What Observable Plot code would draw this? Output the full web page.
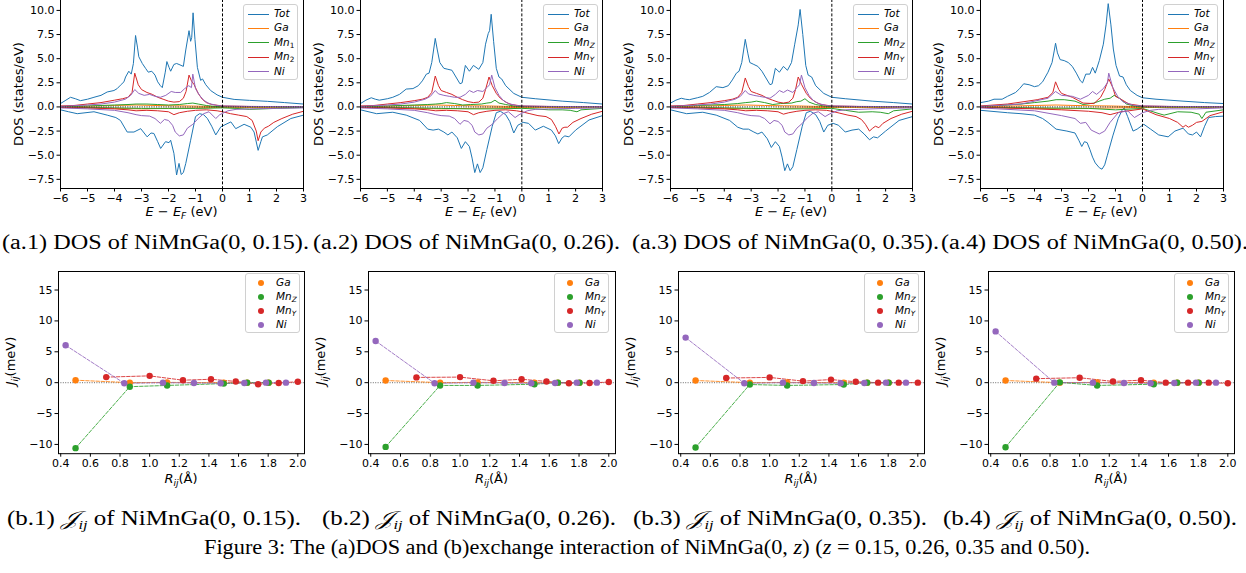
<!DOCTYPE html>
<html><head><meta charset="utf-8">
<script src="https://cdn.jsdelivr.net/npm/d3@7"></script>
<script src="https://cdn.jsdelivr.net/npm/@observablehq/plot@0.6"></script>
<style>
html,body{margin:0;padding:0;background:#fff;}
body{width:1246px;height:573px;overflow:hidden;position:relative;font-family:"DejaVu Sans",sans-serif;color:#000;}
.lbl{position:absolute;font-size:13px;white-space:nowrap;line-height:1;}
.sb{font-size:70%;vertical-align:-0.3em;}
.leg{position:absolute;border:1px solid #d0d0d0;border-radius:3px;background:rgba(255,255,255,0.85);box-sizing:border-box;}
.legt{position:absolute;font-size:10.5px;font-style:italic;white-space:nowrap;line-height:1;}
</style></head>
<body>
<script>
// ---------- tick labels ----------
const dosTicksX = [-6,-5,-4,-3,-2,-1,0,1,2,3];
const dosTicksY = [-7.5,-5,-2.5,0,2.5,5,7.5,10];
const jTicksX = [0.4,0.6,0.8,1.0,1.2,1.4,1.6,1.8,2.0];
const jTicksY = [-10,-5,0,5,10,15];
const speciesDOS = ["Tot","Ga","MnZ","MnY","Ni"];
const speciesJ = ["Ga","MnZ","MnY","Ni"];
const colorsDOS = ["#1f77b4","#ff7f0e","#2ca02c","#d62728","#9467bd"];
const colorsJ = ["#ff7f0e","#2ca02c","#d62728","#9467bd"];

// ---------- DOS panel 1 (z = 0.15) : [E, DOS] ----------
const tot_up_1 = [[-6,0.35],[-5.8,0.7],[-5.63,1.0],[-5.45,0.85],[-5.26,0.65],[-5.0,0.8],[-4.76,1.0],[-4.5,1.2],[-4.27,1.55],[-4.02,1.7],[-3.9,1.9],[-3.78,2.25],[-3.65,2.6],[-3.59,3.1],[-3.47,3.7],[-3.38,3.4],[-3.3,4.5],[-3.22,7.4],[-3.15,6.2],[-3.1,5.2],[-2.97,4.5],[-2.85,4.0],[-2.75,3.6],[-2.62,3.7],[-2.5,3.3],[-2.4,2.6],[-2.3,2.2],[-2.23,2.0],[-2.12,3.6],[-2.06,4.7],[-1.98,4.1],[-1.92,3.7],[-1.8,4.4],[-1.7,4.5],[-1.61,4.4],[-1.45,4.2],[-1.36,5.9],[-1.24,7.9],[-1.18,6.8],[-1.14,7.2],[-1.09,9.75],[-1.02,7.0],[-0.93,4.1],[-0.81,2.75],[-0.74,2.9],[-0.62,2.3],[-0.44,1.7],[-0.2,1.25],[0,1.0],[0.43,0.78],[1.0,0.68],[1.66,0.58],[2.3,0.45],[3,0.3]];
const tot_dn_1 = [[-6,-0.3],[-5.7,-0.5],[-5.38,-0.7],[-4.76,-0.5],[-4.27,-0.85],[-3.95,-1.1],[-3.78,-1.4],[-3.53,-2.6],[-3.28,-2.6],[-3.03,-2.25],[-2.79,-3.1],[-2.65,-2.7],[-2.54,-2.75],[-2.4,-3.6],[-2.29,-4.3],[-2.11,-3.6],[-1.98,-3.7],[-1.92,-3.45],[-1.8,-4.8],[-1.7,-7.05],[-1.61,-5.85],[-1.53,-7.0],[-1.45,-6.8],[-1.36,-5.85],[-1.18,-3.45],[-1.0,-1.0],[-0.85,-0.7],[-0.7,-0.8],[-0.56,-1.2],[-0.4,-2.0],[-0.25,-2.9],[-0.06,-2.05],[0.31,-1.55],[0.49,-2.25],[0.8,-1.8],[1.05,-2.1],[1.17,-2.6],[1.32,-4.5],[1.42,-3.6],[1.48,-3.1],[1.66,-2.9],[2.03,-2.05],[2.53,-1.2],[3,-0.85]];
const ga_up_1 = [[-6,0.02],[-5,0.08],[-4,0.15],[-3.2,0.2],[-2.5,0.15],[-1.8,0.12],[-1.2,0.1],[-0.5,0.05],[0,0.03],[3,0.02]];
const ga_dn_1 = [[-6,-0.02],[-5,-0.08],[-4,-0.15],[-3,-0.2],[-2,-0.15],[-1,-0.1],[0,-0.05],[1.5,-0.05],[3,-0.02]];
const mnz_up_1 = [[-6,0.03],[-5,0.1],[-4,0.2],[-3.5,0.25],[-3.2,0.3],[-2.8,0.3],[-2.4,0.25],[-2.0,0.2],[-1.6,0.25],[-1.3,0.35],[-1.1,0.4],[-0.9,0.3],[-0.6,0.15],[-0.3,0.05],[0,0.02],[3,0.01]];
const mnz_dn_1 = [[-6,-0.03],[-4,-0.1],[-3,-0.15],[-2,-0.15],[-1,-0.15],[0,-0.1],[0.5,-0.15],[1.0,-0.25],[1.5,-0.2],[2.0,-0.15],[3,-0.05]];
const mny_up_1 = [[-6,0.1],[-5.5,0.15],[-5,0.3],[-4.5,0.45],[-4,0.7],[-3.7,0.85],[-3.5,1.0],[-3.35,1.5],[-3.25,3.5],[-3.12,2.3],[-3.0,1.8],[-2.8,1.5],[-2.6,1.3],[-2.4,1.0],[-2.2,0.8],[-2.0,0.6],[-1.8,0.5],[-1.6,0.55],[-1.45,0.9],[-1.35,1.6],[-1.24,3.3],[-1.15,2.7],[-1.05,2.3],[-0.9,1.4],[-0.75,0.8],[-0.6,0.45],[-0.4,0.25],[0,0.1],[1,0.05],[3,0.03]];
const mny_dn_1 = [[-6,-0.05],[-5,-0.1],[-4,-0.2],[-3.5,-0.3],[-3.2,-0.4],[-2.8,-0.35],[-2.4,-0.4],[-2.0,-0.5],[-1.8,-0.8],[-1.6,-0.6],[-1.3,-0.45],[-1.0,-0.35],[-0.6,-0.3],[-0.2,-0.4],[0,-0.5],[0.3,-0.7],[0.6,-0.85],[0.9,-1.0],[1.1,-1.4],[1.25,-2.5],[1.32,-3.5],[1.42,-2.6],[1.55,-2.2],[1.7,-2.0],[1.9,-1.6],[2.2,-1.2],[2.6,-0.75],[3,-0.45]];
const ni_up_1 = [[-6,0.05],[-5,0.2],[-4.5,0.3],[-4,0.5],[-3.6,0.8],[-3.4,1.2],[-3.25,1.8],[-3.1,1.4],[-2.9,1.2],[-2.7,1.3],[-2.5,1.1],[-2.3,1.0],[-2.1,1.2],[-1.9,1.6],[-1.75,1.5],[-1.55,1.5],[-1.4,1.9],[-1.25,2.2],[-1.15,2.0],[-1.1,3.4],[-1.0,1.9],[-0.85,1.2],[-0.7,0.7],[-0.5,0.35],[-0.2,0.15],[0,0.1],[1,0.05],[3,0.03]];
const ni_dn_1 = [[-6,-0.1],[-5,-0.2],[-4,-0.35],[-3.5,-0.6],[-3.2,-0.8],[-3.0,-0.9],[-2.7,-0.95],[-2.5,-1.2],[-2.3,-1.7],[-2.15,-1.3],[-2.0,-1.4],[-1.85,-1.9],[-1.75,-2.6],[-1.6,-3.0],[-1.45,-2.9],[-1.3,-2.2],[-1.1,-1.8],[-0.9,-1.2],[-0.7,-0.7],[-0.5,-0.5],[-0.25,-1.2],[-0.1,-0.8],[0.2,-0.4],[0.5,-0.25],[1.0,-0.2],[2,-0.15],[3,-0.1]];

// ---------- DOS panel 2 (z = 0.26) ----------
const tot_up_2 = [[-6,0.35],[-5.8,0.7],[-5.6,0.95],[-5.45,0.8],[-5.3,0.7],[-5.0,0.85],[-4.8,1.0],[-4.55,1.3],[-4.3,1.85],[-4.05,1.9],[-3.85,2.2],[-3.7,2.7],[-3.55,3.4],[-3.45,3.5],[-3.35,4.6],[-3.22,7.1],[-3.15,6.0],[-3.05,4.6],[-2.9,4.0],[-2.75,3.9],[-2.6,3.8],[-2.45,3.1],[-2.3,2.4],[-2.22,2.5],[-2.1,4.3],[-1.95,3.7],[-1.8,4.3],[-1.6,3.9],[-1.45,4.6],[-1.35,6.5],[-1.25,7.6],[-1.2,7.9],[-1.14,9.6],[-1.05,6.8],[-0.95,4.0],[-0.85,3.1],[-0.75,2.9],[-0.6,2.2],[-0.3,1.4],[0,1.0],[0.5,0.85],[1.5,0.6],[2.3,0.45],[3,0.3]];
const tot_dn_2 = [[-6,-0.3],[-5.4,-0.7],[-4.8,-0.55],[-4.3,-0.85],[-3.8,-1.4],[-3.5,-2.3],[-3.3,-2.4],[-3.1,-2.3],[-2.9,-2.6],[-2.75,-2.9],[-2.6,-2.6],[-2.4,-3.2],[-2.25,-4.3],[-2.1,-3.6],[-1.95,-4.1],[-1.85,-5.3],[-1.75,-6.8],[-1.65,-5.9],[-1.55,-6.8],[-1.45,-6.3],[-1.3,-4.4],[-1.1,-2.0],[-0.95,-0.6],[-0.8,-0.45],[-0.6,-0.8],[-0.45,-1.5],[-0.3,-2.7],[-0.15,-1.9],[0.05,-1.6],[0.25,-1.7],[0.5,-2.4],[0.8,-2.0],[1.1,-2.4],[1.25,-3.0],[1.37,-3.8],[1.5,-3.2],[1.6,-3.0],[1.75,-3.1],[2.0,-2.4],[2.5,-1.35],[3,-0.9]];
const ga_up_2 = [[-6,0.02],[-5,0.08],[-4,0.15],[-3.2,0.2],[-2.5,0.15],[-1.8,0.12],[-1.2,0.1],[-0.5,0.05],[0,0.03],[3,0.02]];
const ga_dn_2 = [[-6,-0.02],[-5,-0.08],[-4,-0.15],[-3,-0.2],[-2,-0.15],[-1,-0.1],[0,-0.05],[1.5,-0.05],[3,-0.02]];
const mnz_up_2 = [[-6,0.03],[-5,0.1],[-4,0.2],[-3.5,0.25],[-3.2,0.3],[-3.0,0.35],[-2.8,0.45],[-2.5,0.35],[-2.2,0.2],[-1.9,0.25],[-1.5,0.3],[-1.3,0.4],[-1.15,0.45],[-1.0,0.7],[-0.85,0.4],[-0.6,0.25],[-0.3,0.1],[0,0.03],[3,0.01]];
const mnz_dn_2 = [[-6,-0.03],[-4,-0.1],[-3,-0.15],[-2,-0.2],[-1,-0.2],[0,-0.15],[0.5,-0.2],[1.0,-0.3],[1.5,-0.3],[1.8,-0.35],[2.05,-0.5],[2.2,-0.3],[3,-0.15]];
const mny_up_2 = [[-6,0.1],[-5.5,0.15],[-5,0.3],[-4.5,0.45],[-4,0.65],[-3.7,0.8],[-3.5,1.0],[-3.35,1.5],[-3.22,3.2],[-3.1,2.2],[-3.0,1.7],[-2.8,1.5],[-2.6,1.3],[-2.4,1.0],[-2.2,0.75],[-2.0,0.55],[-1.8,0.45],[-1.6,0.5],[-1.45,0.9],[-1.35,1.8],[-1.22,3.1],[-1.1,2.2],[-0.95,1.4],[-0.8,0.9],[-0.6,0.5],[-0.4,0.25],[0,0.1],[1,0.05],[3,0.03]];
const mny_dn_2 = [[-6,-0.05],[-5,-0.1],[-4,-0.2],[-3.5,-0.3],[-3.2,-0.4],[-2.8,-0.35],[-2.4,-0.4],[-2.0,-0.5],[-1.8,-0.8],[-1.6,-0.6],[-1.3,-0.45],[-1.0,-0.35],[-0.6,-0.3],[-0.2,-0.4],[0,-0.5],[0.3,-0.7],[0.6,-0.9],[0.9,-1.0],[1.1,-1.3],[1.25,-2.0],[1.38,-2.8],[1.5,-2.2],[1.6,-2.1],[1.7,-2.1],[1.9,-1.6],[2.2,-1.2],[2.6,-0.75],[3,-0.45]];
const ni_up_2 = [[-6,0.05],[-5,0.2],[-4.5,0.3],[-4,0.5],[-3.6,0.8],[-3.4,1.1],[-3.22,1.7],[-3.1,1.35],[-2.9,1.2],[-2.7,1.1],[-2.5,1.0],[-2.3,1.0],[-2.1,1.3],[-1.95,1.7],[-1.8,1.5],[-1.65,1.7],[-1.45,1.6],[-1.3,2.0],[-1.2,2.3],[-1.12,3.3],[-1.0,2.0],[-0.85,1.2],[-0.7,0.7],[-0.5,0.35],[-0.2,0.15],[0,0.1],[1,0.05],[3,0.03]];
const ni_dn_2 = [[-6,-0.1],[-5,-0.2],[-4,-0.35],[-3.5,-0.6],[-3.2,-0.8],[-3.0,-0.9],[-2.7,-0.95],[-2.5,-1.2],[-2.3,-1.8],[-2.15,-1.4],[-2.0,-1.5],[-1.85,-1.9],[-1.75,-2.6],[-1.6,-2.9],[-1.45,-2.8],[-1.3,-2.2],[-1.1,-1.8],[-0.9,-1.2],[-0.7,-0.7],[-0.5,-0.5],[-0.25,-1.1],[-0.1,-0.8],[0.2,-0.4],[0.5,-0.25],[1.0,-0.2],[2,-0.15],[3,-0.1]];

// ---------- DOS panel 3 (z = 0.35) ----------
const tot_up_3 = [[-6,0.4],[-5.8,0.7],[-5.6,0.9],[-5.45,0.8],[-5.3,0.75],[-5.0,0.95],[-4.8,1.1],[-4.55,1.5],[-4.3,2.1],[-4.05,2.0],[-3.85,2.2],[-3.7,2.8],[-3.55,3.5],[-3.45,3.7],[-3.35,4.6],[-3.22,7.0],[-3.12,5.5],[-3.05,4.6],[-2.9,4.4],[-2.75,4.2],[-2.6,3.7],[-2.45,3.0],[-2.3,2.3],[-2.22,2.4],[-2.1,4.0],[-1.95,3.6],[-1.8,4.2],[-1.65,3.8],[-1.5,4.6],[-1.38,6.5],[-1.25,8.5],[-1.18,10.1],[-1.08,7.5],[-0.97,4.3],[-0.88,3.3],[-0.75,3.1],[-0.6,2.2],[-0.3,1.4],[0,1.0],[0.5,0.85],[1.5,0.6],[2.3,0.45],[3,0.3]];
const tot_dn_3 = [[-6,-0.3],[-5.4,-0.7],[-4.8,-0.55],[-4.3,-0.85],[-3.8,-1.4],[-3.5,-2.1],[-3.3,-2.3],[-3.1,-2.3],[-2.9,-2.6],[-2.75,-2.8],[-2.6,-2.6],[-2.4,-3.3],[-2.25,-4.2],[-2.1,-3.6],[-1.95,-4.1],[-1.85,-5.2],[-1.75,-6.6],[-1.65,-5.9],[-1.55,-6.6],[-1.45,-6.2],[-1.3,-4.4],[-1.1,-2.0],[-0.95,-0.6],[-0.8,-0.45],[-0.6,-0.8],[-0.45,-1.5],[-0.3,-2.6],[-0.15,-1.9],[0.05,-1.7],[0.25,-1.9],[0.5,-2.6],[0.75,-2.4],[1.0,-2.3],[1.2,-2.8],[1.4,-3.4],[1.55,-3.1],[1.7,-3.2],[2.0,-2.5],[2.5,-1.4],[3,-1.0]];
const ga_up_3 = [[-6,0.02],[-5,0.08],[-4,0.15],[-3.2,0.2],[-2.5,0.15],[-1.8,0.12],[-1.2,0.1],[-0.5,0.05],[0,0.03],[3,0.02]];
const ga_dn_3 = [[-6,-0.02],[-5,-0.08],[-4,-0.15],[-3,-0.2],[-2,-0.15],[-1,-0.1],[0,-0.05],[1.5,-0.05],[3,-0.02]];
const mnz_up_3 = [[-6,0.03],[-5,0.15],[-4,0.25],[-3.5,0.35],[-3.2,0.45],[-3.0,0.5],[-2.8,0.6],[-2.5,0.45],[-2.2,0.25],[-1.9,0.35],[-1.5,0.4],[-1.3,0.55],[-1.15,0.6],[-1.0,0.85],[-0.85,0.5],[-0.6,0.25],[-0.3,0.1],[0,0.03],[3,0.01]];
const mnz_dn_3 = [[-6,-0.03],[-4,-0.1],[-3,-0.15],[-2,-0.2],[-1,-0.2],[0,-0.15],[0.5,-0.35],[1.0,-0.55],[1.5,-0.5],[1.8,-0.55],[2.1,-0.7],[2.3,-0.4],[3,-0.2]];
const mny_up_3 = [[-6,0.1],[-5.5,0.15],[-5,0.3],[-4.5,0.45],[-4,0.65],[-3.7,0.8],[-3.5,1.0],[-3.35,1.5],[-3.22,3.0],[-3.1,2.1],[-3.0,1.6],[-2.8,1.4],[-2.6,1.2],[-2.4,0.9],[-2.2,0.7],[-2.0,0.5],[-1.8,0.4],[-1.6,0.5],[-1.45,0.9],[-1.35,1.8],[-1.25,3.1],[-1.12,2.3],[-0.95,1.4],[-0.8,0.9],[-0.6,0.5],[-0.4,0.25],[0,0.1],[1,0.05],[3,0.03]];
const mny_dn_3 = [[-6,-0.05],[-5,-0.1],[-4,-0.2],[-3.5,-0.3],[-3.2,-0.4],[-2.8,-0.35],[-2.4,-0.4],[-2.0,-0.5],[-1.8,-0.75],[-1.6,-0.6],[-1.3,-0.45],[-1.0,-0.35],[-0.6,-0.3],[-0.2,-0.35],[0,-0.45],[0.3,-0.65],[0.6,-0.85],[0.9,-1.0],[1.1,-1.3],[1.25,-1.8],[1.4,-2.5],[1.52,-2.2],[1.62,-2.0],[1.75,-2.15],[1.9,-1.7],[2.2,-1.2],[2.6,-0.75],[3,-0.45]];
const ni_up_3 = [[-6,0.05],[-5,0.2],[-4.5,0.3],[-4,0.5],[-3.6,0.8],[-3.4,1.1],[-3.22,1.7],[-3.1,1.35],[-2.9,1.2],[-2.7,1.1],[-2.5,1.0],[-2.3,0.9],[-2.1,1.3],[-1.95,1.7],[-1.8,1.5],[-1.65,1.75],[-1.45,1.5],[-1.3,2.0],[-1.2,2.3],[-1.13,3.3],[-1.0,2.0],[-0.85,1.2],[-0.7,0.7],[-0.5,0.35],[-0.2,0.15],[0,0.1],[1,0.05],[3,0.03]];
const ni_dn_3 = [[-6,-0.1],[-5,-0.2],[-4,-0.35],[-3.5,-0.6],[-3.2,-0.8],[-3.0,-0.9],[-2.7,-0.95],[-2.5,-1.2],[-2.3,-1.75],[-2.15,-1.4],[-2.0,-1.5],[-1.85,-1.9],[-1.75,-2.6],[-1.6,-2.9],[-1.45,-2.8],[-1.3,-2.2],[-1.1,-1.7],[-0.9,-1.1],[-0.7,-0.65],[-0.5,-0.5],[-0.25,-1.0],[-0.1,-0.75],[0.2,-0.4],[0.5,-0.3],[1.0,-0.25],[2,-0.15],[3,-0.1]];

// ---------- DOS panel 4 (z = 0.50) ----------
const tot_up_4 = [[-6,0.45],[-5.7,0.6],[-5.5,0.8],[-5.2,0.8],[-5,1.1],[-4.7,1.5],[-4.55,1.9],[-4.4,2.4],[-4.2,2.3],[-4.0,2.1],[-3.85,2.2],[-3.7,2.6],[-3.5,3.6],[-3.35,4.6],[-3.27,5.8],[-3.22,6.6],[-3.15,5.6],[-3.05,4.9],[-2.9,4.8],[-2.75,4.6],[-2.6,4.2],[-2.45,3.5],[-2.3,2.7],[-2.22,2.5],[-2.1,3.4],[-1.95,3.4],[-1.85,4.1],[-1.75,3.5],[-1.6,4.8],[-1.45,6.5],[-1.35,8.5],[-1.27,10.7],[-1.17,8.5],[-1.08,6.0],[-0.98,4.3],[-0.85,3.2],[-0.72,3.1],[-0.6,2.3],[-0.45,1.7],[-0.2,1.2],[0,0.95],[0.5,0.8],[1.5,0.6],[2.3,0.45],[3,0.35]];
const tot_dn_4 = [[-6,-0.35],[-5,-0.6],[-4.5,-0.7],[-4,-0.85],[-3.7,-1.2],[-3.5,-1.6],[-3.2,-2.3],[-2.8,-2.5],[-2.5,-2.7],[-2.35,-3.5],[-2.25,-4.1],[-2.15,-3.6],[-2.05,-3.7],[-1.95,-4.4],[-1.85,-5.2],[-1.75,-5.8],[-1.6,-6.3],[-1.5,-6.45],[-1.4,-6.0],[-1.3,-5.0],[-1.1,-3.0],[-0.9,-1.2],[-0.75,-0.3],[-0.68,-0.1],[-0.55,-1.0],[-0.35,-2.5],[-0.2,-2.3],[0.05,-1.8],[0.3,-2.3],[0.6,-2.9],[0.95,-3.1],[1.2,-2.5],[1.5,-2.2],[1.7,-2.8],[1.85,-2.9],[2.0,-2.6],[2.15,-3.1],[2.3,-2.0],[2.45,-1.1],[2.7,-1.0],[3,-0.95]];
const ga_up_4 = [[-6,0.02],[-5,0.08],[-4,0.15],[-3.2,0.2],[-2.5,0.15],[-1.8,0.12],[-1.2,0.1],[-0.5,0.05],[0,0.03],[3,0.02]];
const ga_dn_4 = [[-6,-0.02],[-5,-0.08],[-4,-0.15],[-3,-0.2],[-2,-0.15],[-1,-0.1],[0,-0.05],[1.5,-0.05],[3,-0.02]];
const mnz_up_4 = [[-6,0.05],[-5,0.2],[-4.5,0.3],[-4,0.45],[-3.5,0.6],[-3.2,0.75],[-2.9,0.75],[-2.5,0.6],[-2.2,0.25],[-1.8,0.4],[-1.4,0.8],[-1.2,0.9],[-1.05,1.2],[-0.85,0.9],[-0.6,0.3],[-0.3,0.1],[0,0.0],[3,0.0]];
const mnz_dn_4 = [[-6,-0.05],[-4,-0.1],[-2,-0.15],[-1,-0.3],[0,-0.15],[0.5,-0.6],[0.8,-0.85],[1.3,-0.5],[1.8,-0.55],[2.1,-0.75],[2.2,-1.2],[2.35,-0.55],[3,-0.3]];
const mny_up_4 = [[-6,0.1],[-5,0.3],[-4.5,0.5],[-3.9,0.75],[-3.5,1.0],[-3.32,1.5],[-3.22,2.6],[-3.1,1.8],[-3.0,1.4],[-2.6,1.0],[-2.2,0.4],[-1.8,0.35],[-1.55,1.0],[-1.4,1.8],[-1.25,2.9],[-1.1,2.0],[-1.0,1.1],[-0.8,0.8],[-0.5,0.3],[0,0.1],[1,0.05],[3,0.03]];
const mny_dn_4 = [[-6,-0.05],[-4,-0.2],[-3,-0.3],[-2,-0.45],[-1.5,-0.6],[-1.2,-0.8],[-0.8,-0.5],[-0.5,-0.4],[0,-0.2],[0.5,-0.8],[1.0,-1.2],[1.3,-1.6],[1.5,-2.1],[1.6,-1.9],[1.7,-2.1],[1.85,-1.9],[2.0,-1.6],[2.2,-1.5],[2.5,-0.9],[3,-0.5]];
const ni_up_4 = [[-6,0.05],[-4.5,0.3],[-3.5,0.9],[-3.22,1.6],[-3.0,1.2],[-2.6,1.1],[-2.3,0.8],[-2.0,1.2],[-1.85,1.6],[-1.7,1.3],[-1.45,1.9],[-1.3,2.5],[-1.25,3.5],[-1.1,2.0],[-0.9,1.0],[-0.7,0.5],[-0.3,0.15],[0,0.1],[1,0.05],[3,0.03]];
const ni_dn_4 = [[-6,-0.1],[-4,-0.4],[-3,-0.9],[-2.5,-1.2],[-2.3,-1.7],[-2.1,-1.6],[-1.9,-2.4],[-1.6,-2.8],[-1.4,-2.5],[-1.2,-1.6],[-0.9,-0.6],[-0.55,-0.4],[-0.3,-1.1],[0,-0.6],[0.3,-0.35],[0.6,-0.25],[1,-0.2],[2,-0.2],[3,-0.1]];

// ---------- exchange interaction: distances R_ij (Å) ----------
const r_Ga  = [0.5,0.866,1.118,1.5,1.658,1.803];
const r_MnZ = [0.5,0.866,1.118,1.5,1.658,1.803];
const r_MnY = [0.707,1.0,1.225,1.414,1.581,1.732,1.871,2.0];
const r_Ni  = [0.433,0.829,1.090,1.299,1.479,1.639,1.785,1.920];
// J_ij (meV)
const J1_Ga = [0.4,0.0,0.05,0.0,0.0,0.0];
const J1_MnZ = [-10.6,-0.65,-0.45,-0.15,0.0,0.0];
const J1_MnY = [0.9,1.1,0.4,0.55,0.2,-0.25,-0.05,0.15];
const J1_Ni = [6.05,-0.1,0.0,-0.05,-0.1,-0.05,0.0,0.0];
const J2_Ga = [0.35,0.0,0.05,0.0,0.0,0.0];
const J2_MnZ = [-10.4,-0.45,-0.45,-0.25,0.0,0.0];
const J2_MnY = [0.85,0.9,0.3,0.55,0.2,-0.1,-0.05,0.1];
const J2_Ni = [6.75,-0.1,0.0,-0.05,-0.1,-0.05,0.0,0.0];
const J3_Ga = [0.35,0.0,0.05,0.0,0.0,0.0];
const J3_MnZ = [-10.5,-0.3,-0.45,-0.3,0.0,0.0];
const J3_MnY = [0.75,0.85,0.25,0.5,0.15,0.0,0.0,0.0];
const J3_Ni = [7.3,-0.1,0.0,-0.05,-0.1,-0.05,0.0,0.0];
const J4_Ga = [0.35,0.0,0.05,0.0,0.0,0.0];
const J4_MnZ = [-10.45,0.05,-0.45,-0.25,0.0,0.0];
const J4_MnY = [0.65,0.8,0.2,0.4,0.0,0.0,0.0,-0.1];
const J4_Ni = [8.3,0.0,0.0,-0.05,-0.1,-0.05,0.0,0.0];

// ---------- captions / legends ----------
const capsA = ["(a.1) DOS of NiMnGa(0, 0.15).","(a.2) DOS of NiMnGa(0, 0.26).","(a.3) DOS of NiMnGa(0, 0.35).","(a.4) DOS of NiMnGa(0, 0.50)."];
const capsBTail = [" of NiMnGa(0, 0.15)."," of NiMnGa(0, 0.26)."," of NiMnGa(0, 0.35)."," of NiMnGa(0, 0.50)."];
const legendDOS1 = ["Tot","Ga","Mn|1","Mn|2","Ni"];
const legendDOS = ["Tot","Ga","Mn|Z","Mn|Y","Ni"];
const legendJ = ["Ga","Mn|Z","Mn|Y","Ni"];

// ================= building =================
const dosData = [
  [[tot_up_1,tot_dn_1],[ga_up_1,ga_dn_1],[mnz_up_1,mnz_dn_1],[mny_up_1,mny_dn_1],[ni_up_1,ni_dn_1]],
  [[tot_up_2,tot_dn_2],[ga_up_2,ga_dn_2],[mnz_up_2,mnz_dn_2],[mny_up_2,mny_dn_2],[ni_up_2,ni_dn_2]],
  [[tot_up_3,tot_dn_3],[ga_up_3,ga_dn_3],[mnz_up_3,mnz_dn_3],[mny_up_3,mny_dn_3],[ni_up_3,ni_dn_3]],
  [[tot_up_4,tot_dn_4],[ga_up_4,ga_dn_4],[mnz_up_4,mnz_dn_4],[mny_up_4,mny_dn_4],[ni_up_4,ni_dn_4]]
];
const jData = [
  [J1_Ga,J1_MnZ,J1_MnY,J1_Ni],[J2_Ga,J2_MnZ,J2_MnY,J2_Ni],
  [J3_Ga,J3_MnZ,J3_MnY,J3_Ni],[J4_Ga,J4_MnZ,J4_MnY,J4_Ni]
];
const jR = [r_Ga,r_MnZ,r_MnY,r_Ni];

const dosFrames = [[60,303],[360,602],[670,912],[980,1223]];
const jFrames = [[58,304],[368,615],[678,924],[988,1234]];
const dosLeg = [243,543,853,1163];
const jLeg = [245,554,864,1174];

const styleBase = {fontFamily:"DejaVu Sans", fontSize:"11px", color:"#000", background:"transparent", overflow:"visible"};

function place(el, left, top){ el.style.position="absolute"; el.style.left=left+"px"; el.style.top=top+"px"; document.body.appendChild(el); }
function addHTML(cls, html, css){ const d=document.createElement("div"); d.className=cls; d.innerHTML=html; Object.assign(d.style, css); document.body.appendChild(d); return d; }
function legLabel(s){ const [a,b]=s.split("|"); return b===undefined? a : a+'<span class="sb"'+(/\d/.test(b)?' style="font-style:normal"':'')+'>'+b+'</span>'; }

// DOS panels
dosData.forEach((panel, p) => {
  const rows = [];
  panel.forEach((pair, si) => pair.forEach((arr, spin) => arr.forEach(([E,v]) => rows.push({E, v, s: speciesDOS[si], key: speciesDOS[si]+spin}))));
  const [L,R] = dosFrames[p];
  const mL=48, mR=6, mT=6, mB=24;
  const fh = 189; // frame from y=-1 to y=188
  const svg = Plot.plot({
    width: R-L+mL+mR, height: fh+mT+mB,
    marginLeft:mL, marginRight:mR, marginTop:mT, marginBottom:mB,
    x:{domain:[-6,3]}, y:{domain:[-8.45,11.13]},
    color:{domain:speciesDOS, range:colorsDOS},
    style: styleBase,
    marks:[
      Plot.line(rows,{x:"E",y:"v",z:"key",stroke:"s",strokeWidth:1,clip:true}),
      Plot.ruleY([0],{stroke:"#333",strokeDasharray:"1.2,1.2",strokeWidth:1}),
      Plot.ruleX([0],{stroke:"#000",strokeDasharray:"3,1.8",strokeWidth:1}),
      Plot.frame({stroke:"#000",strokeWidth:1}),
      Plot.axisX({ticks:dosTicksX, tickFormat:d3.format("d"), tickSize:3.5, tickPadding:2, label:null}),
      Plot.axisY({ticks:dosTicksY, tickFormat:d3.format(".1f"), tickSize:3.5, tickPadding:2.5, label:null})
    ]
  });
  place(svg, L-mL, -1-mT);
  const cx = (L+R)/2;
  addHTML("lbl", 'DOS (states/eV)', {left:(L-42)+"px", top:"94px", transform:"translate(-50%,-50%) rotate(-90deg)"});
  addHTML("lbl", '<i>E</i> − <i>E</i><span class="sb" style="font-style:italic">F</span> (eV)', {left:cx+"px", top:"213px", transform:"translate(-50%,-50%)"});
  const names = p===0 ? legendDOS1 : legendDOS;
  const lg = addHTML("leg", "", {left:dosLeg[p]+"px", top:"4px", width:"55px", height:"76px"});
  names.forEach((n,i)=>{
    const y = 9 + i*14.4;
    const ln = document.createElement("div");
    Object.assign(ln.style,{position:"absolute",left:"4px",top:(y-0.5)+"px",width:"21px",height:"1px",background:colorsDOS[i]});
    lg.appendChild(ln);
    const t = document.createElement("div"); t.className="legt"; t.innerHTML=legLabel(n);
    Object.assign(t.style,{left:"30px",top:(y-6)+"px"});
    lg.appendChild(t);
  });
});

// J panels
jData.forEach((panel, p) => {
  const pts = [];
  panel.forEach((vals, si) => vals.forEach((v,k) => pts.push({r: jR[si][k], J: v, s: speciesJ[si]})));
  const [L,R] = jFrames[p];
  const top = 270.5, bot = 452.7;
  const mL=50, mR=6, mT=6, mB=24;
  const svg = Plot.plot({
    width: R-L+mL+mR, height: (bot-top)+mT+mB,
    marginLeft:mL, marginRight:mR, marginTop:mT, marginBottom:mB,
    x:{domain:[0.385,2.045]}, y:{domain:[-11.5,18]},
    color:{domain:speciesJ, range:colorsJ},
    style: styleBase,
    marks:[
      Plot.ruleY([0],{stroke:"#888",strokeDasharray:"1,1.4",strokeWidth:1.1}),
      ...speciesJ.map(s => Plot.line(pts.filter(d=>d.s===s),{x:"r",y:"J",stroke:"s",strokeWidth:1,strokeDasharray:"3.5,1.6",strokeOpacity:0.85})),
      ...speciesJ.map(s => Plot.dot(pts.filter(d=>d.s===s),{x:"r",y:"J",fill:"s",r:3.2,stroke:"none"})),
      Plot.frame({stroke:"#000",strokeWidth:1}),
      Plot.axisX({ticks:jTicksX, tickFormat:d3.format(".1f"), tickSize:3.5, tickPadding:2, label:null}),
      Plot.axisY({ticks:jTicksY, tickFormat:d3.format("d"), tickSize:3.5, tickPadding:2.5, label:null})
    ]
  });
  place(svg, L-mL, top-mT);
  const cx = (L+R)/2;
  addHTML("lbl", '<i>J</i><span class="sb" style="font-style:italic">ij</span>(meV)', {left:(L-46)+"px", top:"361px", transform:"translate(-50%,-50%) rotate(-90deg)"});
  addHTML("lbl", '<i>R</i><span class="sb" style="font-style:italic">ij</span>(Å)', {left:cx+"px", top:"480px", transform:"translate(-50%,-50%)"});
  const lg = addHTML("leg", "", {left:jLeg[p]+"px", top:"273px", width:"55px", height:"60px"});
  legendJ.forEach((n,i)=>{
    const y = 8.7 + i*14.2;
    const dt = document.createElement("div");
    Object.assign(dt.style,{position:"absolute",left:"12px",top:(y-3)+"px",width:"6px",height:"6px",borderRadius:"50%",background:colorsJ[i]});
    lg.appendChild(dt);
    const t = document.createElement("div"); t.className="legt"; t.innerHTML=legLabel(n);
    Object.assign(t.style,{left:"30px",top:(y-6)+"px"});
    lg.appendChild(t);
  });
});

// captions (SVG text, serif)
const NS="http://www.w3.org/2000/svg";
const cap = document.createElementNS(NS,"svg");
cap.setAttribute("width",1246); cap.setAttribute("height",573);
cap.style.position="absolute"; cap.style.left="0"; cap.style.top="0"; cap.style.pointerEvents="none";
document.body.appendChild(cap);
function capText(x, y, w, html, size){
  const t=document.createElementNS(NS,"text");
  t.setAttribute("x",x); t.setAttribute("y",y);
  t.setAttribute("font-family","Liberation Serif, serif"); t.setAttribute("font-size",size);
  t.setAttribute("textLength",w); t.setAttribute("lengthAdjust","spacingAndGlyphs");
  t.innerHTML=html; cap.appendChild(t);
}
const capAx = [2,313,632,941];
capsA.forEach((c,i)=>capText(capAx[i],249,307,c,20));
const capBx = [7,322,633,943];
capsBTail.forEach((c,i)=>capText(capBx[i],525,294,'(b.'+(i+1)+') <tspan font-style="italic">𝒥</tspan><tspan font-style="italic" font-size="13" dy="4">ij</tspan><tspan dy="-4">'+c+'</tspan>',20));
capText(204,554,886,'Figure 3: The (a)DOS and (b)exchange interaction of NiMnGa(0, <tspan font-style="italic">z</tspan>) (<tspan font-style="italic">z</tspan> = 0.15, 0.26, 0.35 and 0.50).',20);
</script>
</body></html>
